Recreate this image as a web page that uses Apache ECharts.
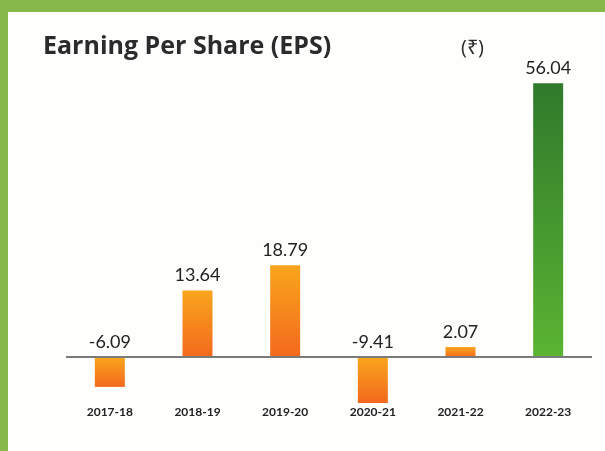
<!DOCTYPE html>
<html>
<head>
<meta charset="utf-8">
<script src="https://cdn.jsdelivr.net/npm/echarts@6/dist/echarts.min.js"></script>
<style>
  html, body { margin: 0; padding: 0; }
  #chart {
    width: 605px; height: 451px;
    background: #fefefc;
    box-shadow: inset 8px 12px 0 #86b84a;
  }
</style>
</head>
<body>
<div id="chart"></div>
<script>
// 数据
var years = ['2017-18', '2018-19', '2019-20', '2020-21', '2021-22', '2022-23'];
var eps = [-6.09, 13.64, 18.79, -9.41, 2.07, 56.04];

var chart = echarts.init(document.getElementById('chart'));

// 橙色 / 绿色 渐变
var orange = new echarts.graphic.LinearGradient(0, 0, 0, 1, [
  {offset: 0, color: '#f9a51c'},
  {offset: 1, color: '#f3691d'}
]);
var green = new echarts.graphic.LinearGradient(0, 0, 0, 1, [
  {offset: 0, color: '#2f7a2c'},
  {offset: 1, color: '#5bb432'}
]);

var barData = eps.map(function (v, i) {
  return {
    value: v,
    itemStyle: {color: i === eps.length - 1 ? green : orange}
  };
});

var option = {
  animation: false,
  title: [
    {
      text: 'Earning Per Share (EPS)',
      left: 38, top: 29,
      textStyle: {fontFamily: 'Open Sans', fontWeight: 'bold', fontSize: 25, color: '#2b2b2b'}
    },
    {
      text: '(₹)',
      left: 456, top: 33,
      textStyle: {fontFamily: 'Open Sans', fontWeight: 'normal', fontSize: 20, color: '#2b2b2b'}
    }
  ],
  grid: {left: 66, right: 13, top: 64, bottom: 45},
  xAxis: {
    type: 'category',
    data: years,
    axisLine: {show: false, onZero: false},
    axisTick: {show: false},
    axisLabel: {
      margin: 0,
      fontFamily: 'Lato', fontWeight: 'bold', fontSize: 12, color: '#222'
    }
  },
  yAxis: {
    type: 'value',
    min: -10, max: 60,
    show: false,
    splitLine: {show: false}
  },
  series: [{
    type: 'bar',
    data: barData,
    barWidth: 30,
    label: {
      show: true,
      position: 'top',
      distance: 6,
      fontFamily: 'Lato', fontSize: 18, color: '#222',
      formatter: function (p) { return p.value.toFixed(2); }
    },
    markLine: {
      silent: true,
      symbol: 'none',
      label: {show: false},
      lineStyle: {color: '#7a7a7a', width: 2, type: 'solid'},
      data: [{yAxis: 0}]
    }
  }]
};

chart.setOption(option);
</script>
</body>
</html>
